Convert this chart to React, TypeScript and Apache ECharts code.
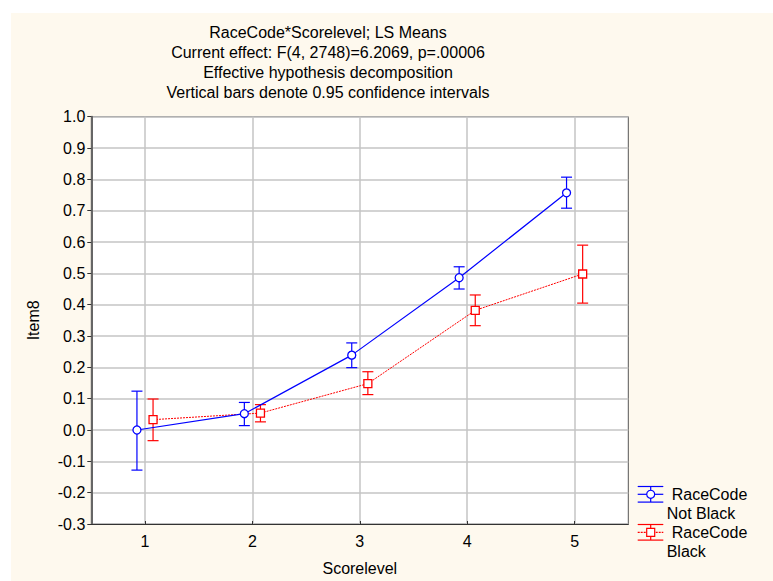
import React, { useEffect, useRef } from "react";
import * as echarts from "echarts";

const levels = [1, 2, 3, 4, 5];
const notBlackMean = [0.0, 0.052, 0.239, 0.486, 0.757];
const notBlackLow = [-0.128, 0.014, 0.199, 0.45, 0.708];
const notBlackHigh = [0.124, 0.088, 0.278, 0.521, 0.807];
const blackMean = [0.033, 0.054, 0.148, 0.382, 0.498];
const blackLow = [-0.034, 0.026, 0.113, 0.333, 0.405];
const blackHigh = [0.099, 0.081, 0.186, 0.431, 0.59];
const titleLines = [
  "RaceCode*Scorelevel; LS Means",
  "Current effect: F(4, 2748)=6.2069, p=.00006",
  "Effective hypothesis decomposition",
  "Vertical bars denote 0.95 confidence intervals",
];

const BLUE = "#0000ff";
const RED = "#ff0000";
const FONT = "'Liberation Sans', Arial, sans-serif";
const FS = 16;

function errorBars(color: string) {
  return (params: any, api: any) => {
    const x = api.value(0);
    const lo = api.coord([x, api.value(1)]);
    const hi = api.coord([x, api.value(2)]);
    const hw = 5.5;
    const style = { stroke: color, lineWidth: 1.2 };
    return {
      type: "group",
      children: [
        { type: "line", shape: { x1: lo[0], y1: lo[1], x2: hi[0], y2: hi[1] }, style },
        { type: "line", shape: { x1: lo[0] - hw, y1: lo[1], x2: lo[0] + hw, y2: lo[1] }, style },
        { type: "line", shape: { x1: hi[0] - hw, y1: hi[1], x2: hi[0] + hw, y2: hi[1] }, style },
      ],
    };
  };
}

export default function App() {
  const ref = useRef<HTMLDivElement>(null);
  useEffect(() => {
    if (!ref.current) return;
    const chart = echarts.init(ref.current, null, { renderer: "svg" });
    const off = 0.075;
    const nbLine = levels.map((l, i) => [l - off, notBlackMean[i]]);
    const bLine = levels.map((l, i) => [l + off, blackMean[i]]);
    const nbErr = levels.map((l, i) => [l - off, notBlackLow[i], notBlackHigh[i]]);
    const bErr = levels.map((l, i) => [l + off, blackLow[i], blackHigh[i]]);

    const txt = { fontFamily: FONT, fontSize: FS, fill: "#000" };
    const graphics: any[] = titleLines.map((t, i) => ({
      type: "text",
      x: 317,
      y: 19 + i * 20.3,
      style: { ...txt, text: t, textAlign: "center", textVerticalAlign: "middle" },
    }));
    // legend
    const lx = 626.7, lx2 = 652.3, cx = 639.7;
    const leg = (yc: number, color: string, dashed: boolean, sym: string, l1: string, l2: string) => {
      const s = { stroke: color, lineWidth: 1.2 };
      graphics.push(
        { type: "line", shape: { x1: lx, y1: yc - 7.8, x2: lx2, y2: yc - 7.8 }, style: s },
        { type: "line", shape: { x1: lx, y1: yc + 7.8, x2: lx2, y2: yc + 7.8 }, style: s },
        { type: "line", shape: { x1: cx, y1: yc - 7.8, x2: cx, y2: yc + 7.8 }, style: s },
        { type: "line", shape: { x1: lx, y1: yc, x2: lx2, y2: yc }, style: { ...s, lineDash: dashed ? [2, 1] : null } },
        sym === "circle"
          ? { type: "circle", shape: { cx, cy: yc, r: 4 }, style: { fill: "#fff", stroke: color, lineWidth: 1.2 } }
          : { type: "rect", shape: { x: cx - 4, y: yc - 4, width: 8, height: 8 }, style: { fill: "#fff", stroke: color, lineWidth: 1.2 } },
        { type: "text", x: 660.7, y: yc, style: { ...txt, text: l1, textVerticalAlign: "middle" } },
        { type: "text", x: 655.7, y: yc + 19.3, style: { ...txt, text: l2, textVerticalAlign: "middle" } }
      );
    };
    leg(481.3, BLUE, false, "circle", "RaceCode", "Not Black");
    leg(519.3, RED, true, "rect", "RaceCode", "Black");

    chart.setOption({
      animation: false,
      backgroundColor: "#fef9ee",
      textStyle: { fontFamily: FONT },
      grid: {
        left: 80.3,
        top: 103.7,
        width: 537,
        height: 407.3,
        show: true,
        backgroundColor: "#ffffff",
        borderColor: "#555",
        borderWidth: 1,
      },
      xAxis: {
        type: "value",
        min: 0.5,
        max: 5.5,
        name: "Scorelevel",
        nameLocation: "middle",
        nameGap: 36,
        nameTextStyle: { fontSize: FS, color: "#000", fontFamily: FONT },
        axisLine: { show: true, onZero: false, lineStyle: { color: "#333", width: 1.2 } },
        axisTick: { show: true, inside: true, length: 3, customValues: levels, lineStyle: { color: "#333" } },
        axisLabel: { customValues: levels, fontSize: FS, color: "#000", margin: 9, fontFamily: FONT },
        splitLine: { show: true, lineStyle: { color: "#c4c4c4", width: 1.5 } },
      },
      yAxis: {
        type: "value",
        min: -0.3,
        max: 1.0,
        interval: 0.1,
        name: "Item8",
        nameLocation: "middle",
        nameGap: 50,
        nameTextStyle: { fontSize: FS, color: "#000", fontFamily: FONT },
        axisLine: { show: true, onZero: false, lineStyle: { color: "#666", width: 2 } },
        axisTick: { show: true, length: 4, lineStyle: { color: "#333" } },
        axisLabel: {
          fontSize: FS,
          color: "#000",
          margin: 6,
          fontFamily: FONT,
          formatter: (v: number) => (Math.abs(v) < 1e-9 ? "0.0" : v.toFixed(1)),
        },
        splitLine: { show: true, lineStyle: { color: "#c4c4c4", width: 1.5 } },
      },
      graphic: graphics,
      series: [
        { type: "custom", renderItem: errorBars(BLUE), data: nbErr, encode: { x: 0, y: [1, 2] }, z: 2 },
        { type: "custom", renderItem: errorBars(RED), data: bErr, encode: { x: 0, y: [1, 2] }, z: 2 },
        {
          type: "line",
          data: bLine,
          symbol: "rect",
          symbolSize: 8,
          lineStyle: { color: RED, width: 1, type: [2, 1] },
          itemStyle: { color: "#fff", borderColor: RED, borderWidth: 1.3 },
          z: 3,
        },
        {
          type: "line",
          data: nbLine,
          symbol: "circle",
          symbolSize: 8,
          lineStyle: { color: BLUE, width: 1.2 },
          itemStyle: { color: "#fff", borderColor: BLUE, borderWidth: 1.3 },
          z: 4,
        },
      ],
    });
    return () => chart.dispose();
  }, []);
  return (
    <div style={{ position: "fixed", left: 0, top: 0, width: 773, height: 581, background: "#fff" }}>
      <div ref={ref} style={{ position: "absolute", left: 11, top: 13, width: 762, height: 568 }} />
    </div>
  );
}
